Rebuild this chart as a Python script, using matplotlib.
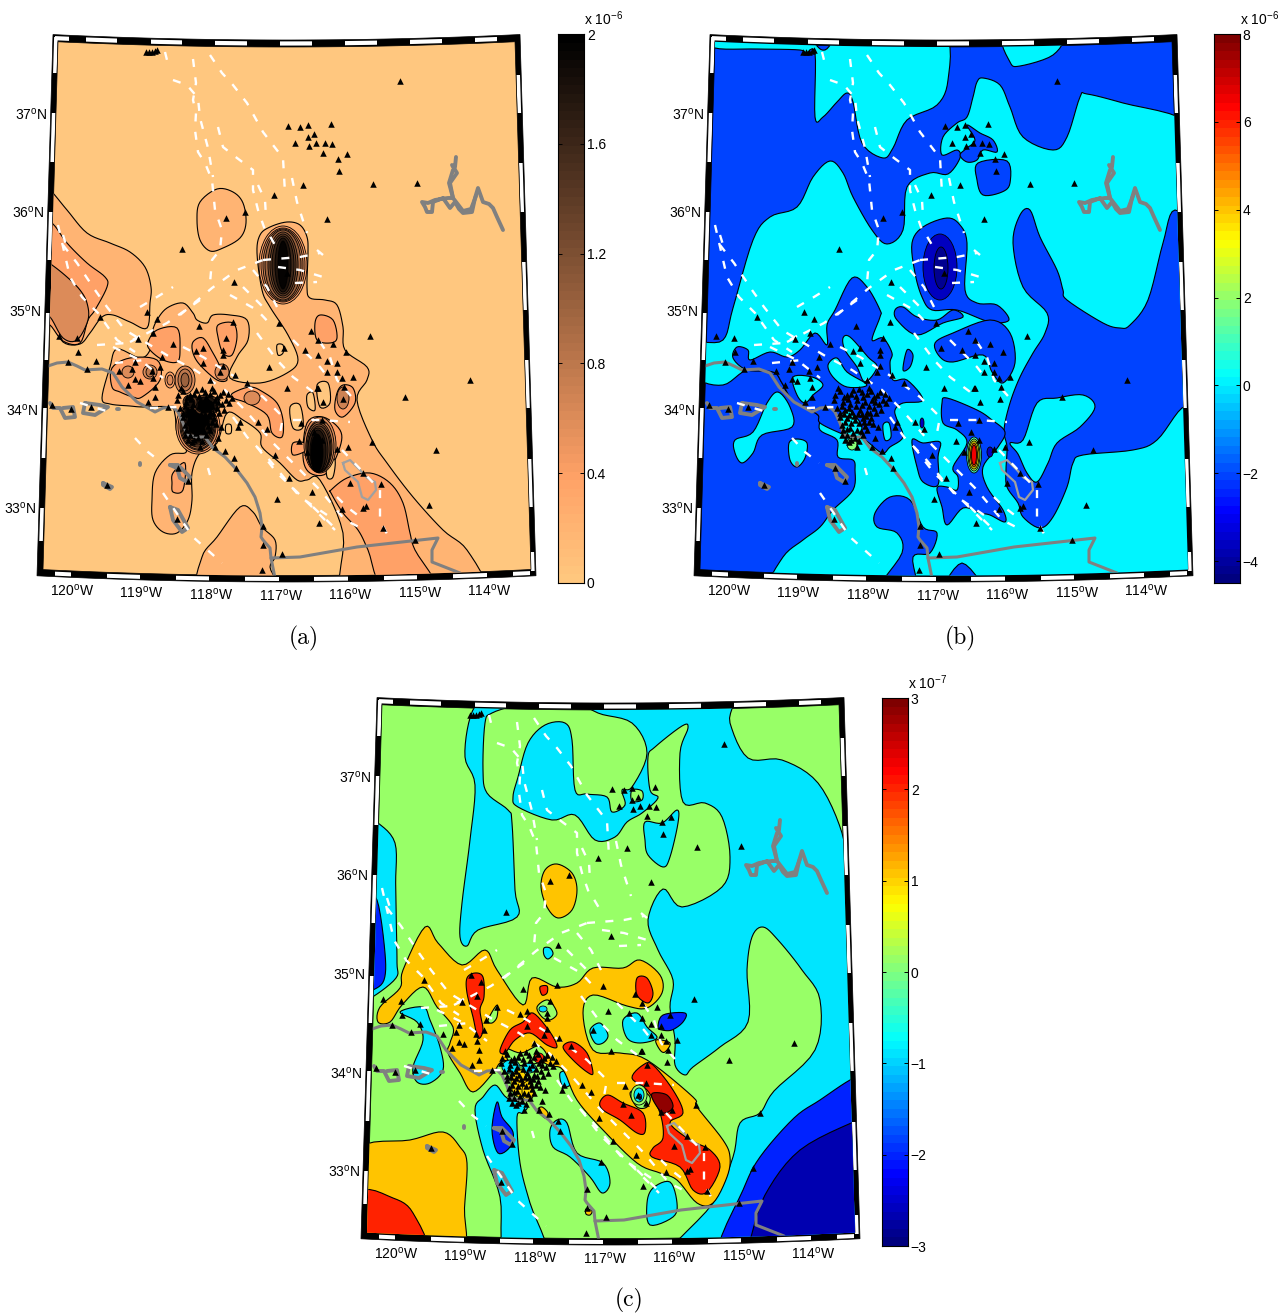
"""Three strain-rate style maps of southern California, rebuilt with matplotlib.

All map shapes are kept in one projected map plane (x east, y down), shared by the panels.
"""

import numpy as np
import matplotlib
matplotlib.use("Agg")
import matplotlib.pyplot as plt
from matplotlib.colors import LinearSegmentedColormap
from matplotlib.patches import Polygon, Ellipse

plt.rcParams["font.family"] = ["Liberation Sans", "DejaVu Sans"]
plt.rcParams["mathtext.default"] = "regular"

W, H = 1278, 1315
MAP_X = (10, 545)
MAP_Y = (20, 610)

# ---- shared map data ----
STATIONS = [
    (146, 52), (149, 52), (152, 52), (155, 51), (157, 50), (288, 126), (300, 127), (308, 125), (314, 134),
    (308, 137), (295, 143), (309, 146), (316, 143), (325, 143), (323, 153), (331, 124), (332, 144), (338, 159),
    (347, 154), (339, 171), (303, 185), (373, 184), (417, 183), (400, 81), (327, 219), (274, 195), (245, 212),
    (226, 218), (182, 249), (234, 282), (287, 273), (147, 312), (157, 319), (100, 317), (59, 336), (77, 338),
    (78, 352), (68, 362), (96, 361), (87, 369), (138, 339), (153, 333), (173, 344), (199, 326), (233, 322),
    (226, 338), (203, 348), (196, 351), (223, 350), (223, 355), (162, 357), (135, 362), (132, 369), (119, 371),
    (152, 371), (160, 367), (203, 363), (223, 366), (220, 372), (235, 375), (269, 367), (247, 383), (210, 380),
    (128, 385), (135, 379), (140, 381), (153, 378), (155, 387), (148, 402), (155, 397), (168, 407), (177, 400),
    (183, 417), (52, 405), (71, 409), (91, 407), (107, 485), (178, 468), (188, 481), (177, 519), (215, 447),
    (225, 451), (218, 438), (234, 458), (236, 468), (221, 427), (240, 422), (238, 427), (258, 422), (267, 429),
    (275, 455), (289, 478), (312, 492), (277, 499), (319, 523), (263, 526), (263, 545), (282, 554), (262, 570),
    (287, 388), (284, 348), (305, 350), (279, 323), (311, 331), (318, 340), (327, 361), (318, 388), (323, 402),
    (301, 423), (299, 441), (322, 420), (192, 442), (185, 435), (200, 447), (370, 336), (333, 344), (346, 352),
    (318, 355), (337, 363), (327, 372), (337, 372), (342, 378), (353, 377), (317, 388), (344, 387), (343, 399),
    (405, 397), (470, 380), (372, 442), (436, 450), (348, 447), (337, 449), (314, 432), (322, 440), (363, 473),
    (350, 483), (381, 484), (366, 506), (342, 509), (363, 508), (429, 505), (383, 528), (415, 540), (307, 452),
    (190, 395), (196, 390), (205, 392), (212, 388), (181, 388), (178, 395), (186, 402), (193, 404), (200, 400),
    (208, 402), (215, 400), (220, 395), (226, 400), (232, 398), (180, 408), (188, 410), (195, 412), (203, 410),
    (210, 412), (217, 408), (190, 418), (198, 420), (206, 418), (214, 418), (185, 425), (193, 428), (200, 430),
    (208, 426), (216, 424), (190, 435), (198, 438), (206, 435),
    (183, 391), (187, 397), (191, 399), (194, 394), (199, 396), (202, 389), (206, 397), (210, 394), (214, 391),
    (217, 397), (223, 392), (228, 394), (229, 403), (222, 404), (218, 402), (212, 406), (205, 405), (199, 406),
    (192, 408), (185, 406), (183, 413), (187, 414), (192, 415), (197, 416), (201, 414), (205, 414), (209, 416),
    (213, 413), (219, 413), (224, 410), (188, 422), (194, 423), (202, 423), (207, 422), (212, 422), (186, 430),
    (190, 429), (196, 433), (204, 431), (210, 430), (194, 440), (202, 441), (188, 440),
]

FAULTS = [
    [(165, 52), (167, 60), (172, 65)],
    [(193, 59), (196, 83), (193, 100), (196, 113), (195, 130), (198, 152), (205, 163), (212, 180), (215, 210),
     (222, 230), (220, 250), (212, 260), (210, 283)],
    [(210, 55), (222, 73), (233, 85), (247, 103), (263, 132), (283, 158), (285, 193)],
    [(173, 80), (187, 85), (198, 98), (200, 118), (208, 148), (213, 177)],
    [(218, 127), (223, 147), (237, 158), (253, 170), (253, 190), (258, 210), (265, 230), (268, 233), (278, 250)],
    [(292, 178), (297, 202), (307, 233)],
    [(258, 185), (265, 200), (266, 217)],
    [(263, 260), (300, 257), (320, 253)],
    [(278, 267), (300, 270), (323, 277)],
    [(295, 283), (317, 282)],
    [(317, 250), (323, 255)],
    [(140, 307), (157, 297), (173, 287)],
    [(180, 315), (212, 288), (237, 270), (263, 260)],
    [(230, 295), (257, 310), (273, 327)],
    [(243, 287), (263, 307)],
    [(253, 270), (267, 287), (277, 307)],
    [(58, 225), (70, 277), (82, 297), (98, 313), (117, 340), (135, 352)],
    [(63, 245), (77, 263), (95, 290), (107, 307), (125, 330), (150, 345), (170, 357), (195, 370), (225, 390),
     (245, 410), (258, 425), (275, 445), (300, 470), (320, 490), (345, 520), (365, 530)],
    [(63, 235), (67, 248)],
    [(135, 438), (148, 452), (162, 463)],
    [(163, 493), (193, 537), (222, 563)],
    [(208, 468), (210, 475)],
    [(80, 403), (113, 413)],
    [(97, 345), (127, 343), (147, 332)],
    [(113, 347), (140, 360), (163, 378)],
    [(115, 363), (145, 360)],
    [(150, 408), (177, 407)],
    [(130, 342), (167, 323), (200, 300)],
    [(183, 347), (203, 357), (237, 378), (263, 397), (283, 417), (280, 433)],
    [(257, 333), (277, 360), (293, 377), (320, 397)],
    [(293, 340), (320, 367), (330, 380)],
    [(320, 342), (330, 357), (337, 380), (357, 403)],
    [(233, 417), (247, 437), (267, 457), (300, 497), (330, 517)],
    [(257, 447), (277, 473), (297, 492), (335, 530)],
    [(342, 450), (363, 472), (380, 490), (380, 520), (390, 540)],
    [(337, 497), (347, 507), (360, 517)],
    [(313, 507), (337, 530)],
    [(293, 420), (320, 420), (350, 422)],
]

COAST = [
    (48, 366), (57, 363), (68, 362), (77, 366), (85, 370), (102, 369), (113, 373), (122, 387), (130, 395),
    (137, 402), (148, 408), (155, 412), (163, 408), (173, 407), (178, 412), (183, 423), (187, 435), (197, 437),
    (205, 437), (213, 448), (225, 457), (237, 470), (247, 483), (255, 497), (260, 513), (262, 527), (261, 537),
    (263, 540), (270, 548), (271, 558), (275, 578),
]
BORDER = [(271, 558), (300, 557), (357, 547), (438, 538), (432, 550), (432, 562), (460, 573)]
ISLANDS = [
    [(50, 403), (53, 408), (60, 408), (65, 418), (75, 417), (73, 407), (63, 408)],
    [(85, 403), (83, 413), (95, 415), (108, 407), (100, 405), (85, 403)],
    [(117, 409), (119, 409)],
    [(103, 483), (112, 487), (110, 489), (103, 485), (103, 483)],
    [(140, 463), (140, 465)],
    [(170, 465), (178, 465), (190, 477), (187, 482), (180, 478), (177, 468), (170, 465)],
    [(170, 507), (178, 510), (188, 528), (182, 532), (173, 520), (170, 507)],
]
SALTON = [(343, 463), (350, 460), (360, 470), (367, 478), (375, 482), (376, 490), (368, 500), (362, 497),
          (358, 482), (345, 470), (343, 463)]
LAKE = [
    (456, 157), (455, 167), (452, 165), (457, 173), (450, 183), (453, 198), (448, 198), (441, 199), (435, 200),
    (428, 203), (422, 202), (425, 207), (427, 212), (432, 212), (433, 202), (443, 198), (450, 208), (455, 202),
    (459, 209), (463, 213), (472, 212), (475, 198), (478, 188), (483, 202), (489, 204), (493, 208), (497, 217),
    (503, 230),
]
LAKE_2 = [(453, 170), (449, 183), (453, 198), (463, 211), (471, 209), (476, 196)]

# ---- panel (a) regions: value, outline ----
A_LEFT_1 = [(40, 186), (50, 190), (67, 210), (87, 233), (110, 243), (130, 252), (145, 267), (151, 287), (150, 303),
            (147, 328), (130, 322), (113, 315), (102, 317), (90, 333), (80, 344), (63, 342), (50, 320), (40, 318)]
A_LEFT_2 = [(40, 218), (53, 224), (67, 243), (87, 263), (105, 277), (107, 287), (95, 310), (88, 320), (80, 343),
            (63, 341), (50, 325), (40, 322)]
A_LEFT_3 = [(40, 258), (52, 265), (67, 277), (80, 290), (87, 303), (88, 320), (77, 340), (63, 338), (50, 317), (40, 315)]
A_BLOB = [(217, 189), (233, 192), (243, 203), (246, 223), (240, 238), (223, 248), (210, 251), (200, 240), (197, 220), (200, 202)]
A_SOUTH = [(202, 590), (202, 557), (217, 537), (240, 507), (253, 512), (262, 527), (275, 540), (275, 557), (270, 567), (273, 590)]
A_CENTER = [
    (117, 349), (140, 358), (150, 350), (152, 333), (157, 320), (167, 308), (183, 303), (193, 313), (197, 320),
    (207, 323), (213, 315), (230, 315), (247, 320), (248, 340), (237, 357), (230, 378), (260, 383), (287, 373),
    (298, 360), (288, 335), (270, 307), (262, 290), (257, 253), (260, 235), (270, 227), (287, 222), (300, 225),
    (307, 237), (308, 253), (307, 287), (310, 298), (325, 300), (337, 305), (343, 327), (345, 350), (367, 367),
    (367, 380), (357, 400), (372, 440), (387, 463), (413, 497), (443, 530), (467, 550), (485, 590), (342, 590),
    (343, 533), (320, 480), (307, 480), (297, 480), (280, 463), (262, 447), (260, 433), (243, 420), (227, 413),
    (217, 443), (200, 453), (192, 473), (192, 500), (188, 520), (177, 533), (163, 532), (153, 520), (152, 500),
    (155, 473), (170, 455), (185, 453), (185, 447), (177, 433), (175, 415), (170, 407), (143, 407), (130, 406),
    (110, 404), (102, 398), (110, 367),
]
A_L2 = [
    [(157, 330), (177, 328), (180, 350), (177, 362), (163, 360), (150, 350), (148, 342)],
    [(218, 325), (233, 323), (237, 337), (232, 355), (223, 353), (218, 337)],
    [(193, 342), (203, 338), (213, 353), (222, 370), (227, 380), (217, 380), (200, 365), (193, 353)],
    [(112, 368), (130, 358), (157, 360), (160, 380), (142, 397), (133, 397), (120, 392), (112, 387)],
    [(233, 393), (250, 387), (263, 392), (277, 403), (283, 420), (282, 437), (272, 433), (267, 415), (247, 403), (233, 398)],
    [(315, 323), (320, 315), (333, 320), (337, 338), (330, 343), (317, 340)],
    [(337, 393), (343, 385), (353, 388), (355, 403), (343, 417), (335, 410)],
    [(307, 423), (323, 417), (340, 430), (340, 447), (327, 473), (310, 473), (303, 457)],
    [(331, 490), (347, 478), (370, 473), (390, 483), (403, 503), (410, 533), (415, 550), (436, 590), (385, 590),
     (368, 550), (358, 530), (343, 513), (331, 493)],
    [(173, 473), (185, 463), (183, 490), (173, 492), (172, 483)],
    [(293, 443), (305, 443), (307, 450), (293, 455)],
]
A_L0 = [
    [(277, 345), (283, 345), (283, 353), (278, 355)],
    [(290, 407), (300, 405), (303, 427), (293, 428)],
    [(317, 385), (328, 383), (330, 403), (320, 407)],
    [(327, 460), (335, 460), (333, 477), (327, 477)],
    [(307, 395), (313, 393), (315, 410), (308, 407)],
    [(226, 425), (231, 425), (231, 433), (226, 433)],
]
# ring value, centre x, centre y, half width, half height
A_RINGS = [
    (0.4, 283, 265, 24, 39), (0.6, 283, 265, 22, 37), (0.8, 283, 265, 20, 36), (1.0, 283, 265, 18, 35),
    (1.2, 283, 265, 15, 33), (1.4, 283, 265, 13, 31), (1.6, 283, 265, 11, 29), (1.8, 283, 265, 8, 27),
    (1.95, 283, 265, 5, 24),
    (0.4, 198, 427, 22, 27), (0.6, 198, 427, 20, 25), (0.8, 198, 426, 18, 24), (1.0, 198, 426, 17, 23),
    (1.2, 198, 425, 16, 22), (1.4, 198, 424, 15, 21), (1.6, 198, 423, 14, 20), (1.8, 198, 422, 12, 18),
    (2.0, 197, 420, 9, 15),
    (1.4, 206, 405, 14, 10), (1.8, 206, 405, 11, 8), (2.0, 206, 406, 8, 6), (1.4, 190, 402, 7, 7), (1.8, 190, 403, 5, 5),
    (0.6, 320, 445, 16, 28), (0.8, 320, 446, 14, 26), (1.0, 319, 447, 13, 25), (1.2, 319, 448, 12, 24),
    (1.4, 319, 449, 11, 23), (1.6, 318, 450, 10, 22), (1.8, 318, 451, 8, 21), (2.0, 317, 453, 6, 19),
    (0.6, 128, 372, 6, 6), (0.6, 150, 372, 7, 7), (0.8, 150, 372, 4, 5), (0.6, 185, 380, 10, 14),
    (0.8, 185, 380, 7, 11), (1.0, 185, 380, 4, 7), (0.6, 222, 372, 7, 8), (0.6, 252, 398, 8, 7),
    (0.7, 343, 398, 6, 11), (0.4, 170, 380, 5, 8), (0.6, 170, 380, 3, 5),
]

# ---- panel (b) regions ----
B_NORTH = [(58, 36), (150, 36), (158, 44), (168, 50), (186, 36), (288, 36), (291, 80), (280, 105), (250, 120), (236, 148),
           (226, 158), (205, 143), (196, 102), (190, 93), (180, 102), (166, 117), (158, 117), (158, 53), (148, 54),
           (143, 50), (58, 48)]
B_NE = [(348, 36), (403, 36), (396, 55), (363, 66), (353, 62)]
B_MAIN = [
    (76, 308), (96, 240), (113, 217), (140, 207), (156, 177), (173, 161), (186, 173), (196, 197), (215, 230),
    (230, 244), (246, 230), (250, 187), (273, 173), (291, 174), (303, 158), (300, 150), (285, 155), (286, 137),
    (300, 123), (310, 117), (316, 97), (320, 82), (326, 78), (343, 85), (353, 107), (366, 137), (396, 150),
    (410, 137), (423, 97), (430, 94), (466, 103), (530, 122), (545, 590), (112, 590), (126, 557), (146, 540),
    (163, 527), (176, 510), (196, 490), (198, 470), (196, 460), (181, 457), (180, 440), (163, 430), (161, 415),
    (135, 400), (125, 383), (116, 372), (90, 370), (66, 385), (40, 377), (40, 345), (66, 340),
]
B_BLUE = [
    [(373, 210), (383, 237), (400, 270), (406, 290), (410, 300), (446, 323), (463, 328), (473, 325), (491, 300),
     (506, 243), (518, 210), (545, 240), (545, 405), (525, 408), (500, 440), (476, 450), (426, 455), (416, 463),
     (410, 487), (396, 517), (383, 528), (366, 517), (361, 503), (350, 487), (349, 470), (350, 447), (347, 430),
     (353, 403), (363, 377), (376, 353), (388, 333), (390, 313), (366, 287), (356, 243), (363, 215)],
    [(310, 125), (323, 133), (336, 140), (340, 152), (326, 150), (320, 160), (310, 162), (303, 155), (310, 148), (318, 140)],
    [(321, 163), (350, 161), (353, 183), (345, 192), (326, 195), (320, 180)],
    [(255, 243), (266, 227), (290, 218), (303, 225), (310, 243), (308, 290), (320, 303), (340, 305), (352, 320),
     (333, 322), (300, 310), (275, 310), (265, 297), (258, 273)],
    [(178, 310), (195, 278), (210, 287), (223, 310), (223, 317), (215, 340), (226, 338), (235, 353), (233, 363),
     (236, 380), (250, 380), (266, 400), (246, 403), (238, 410), (240, 420), (246, 437), (233, 447), (225, 453),
     (208, 440), (196, 437), (183, 433), (163, 423), (161, 415), (148, 408), (135, 400), (125, 383), (116, 372),
     (90, 370), (76, 358), (80, 347), (91, 350), (93, 360), (113, 352), (130, 357), (143, 350), (158, 333),
     (170, 345), (170, 325)],
    [(278, 343), (296, 333), (333, 320), (353, 333), (358, 363), (346, 383), (335, 372), (326, 355), (296, 362), (283, 357)],
    [(238, 310), (246, 307), (260, 317), (280, 320), (296, 310), (306, 317), (286, 323), (260, 335), (240, 320)],
    [(246, 370), (250, 350), (256, 355), (253, 367)],
    [(255, 440), (266, 443), (283, 442), (281, 457), (281, 485), (266, 482), (260, 467)],
    [(218, 513), (233, 497), (253, 500), (266, 527), (280, 533), (273, 553), (256, 557), (258, 590), (222, 590),
     (245, 553), (240, 533), (220, 527)],
    [(288, 590), (305, 563), (325, 590)],
    [(285, 403), (290, 398), (320, 410), (335, 420), (348, 432), (341, 447), (326, 467), (330, 487), (346, 510),
     (348, 522), (333, 515), (323, 513), (306, 508), (290, 525), (285, 507), (280, 488), (290, 487), (300, 490),
     (301, 477), (296, 467), (310, 443), (300, 430), (286, 423)],
]
B_CYAN_TOP = [
    [(380, 403), (400, 398), (426, 395), (438, 407), (423, 427), (400, 443), (391, 463), (380, 482), (370, 473),
     (361, 454), (353, 443), (366, 440)],
    [(186, 338), (193, 337), (211, 357), (220, 367), (208, 382), (200, 367), (188, 350)],
    [(171, 365), (180, 358), (190, 372), (210, 385), (190, 387), (176, 377)],
    [(136, 377), (155, 377), (166, 385), (156, 395), (148, 403), (140, 395)],
    [(78, 440), (96, 432), (110, 403), (121, 392), (133, 407), (135, 427), (105, 435), (96, 453), (85, 463), (78, 453)],
    [(132, 443), (140, 439), (150, 443), (148, 458), (140, 467), (133, 460)],
    [(226, 425), (232, 423), (234, 437), (228, 440)],
    [(183, 420), (190, 410), (200, 418), (205, 430), (198, 445), (190, 440)],
]
B_RINGS = [
    (-3.6, 283, 267, 17, 33), (-4.3, 284, 268, 7, 21),
    (1.0, 317, 455, 7.5, 18), (2.5, 317, 455, 6, 16), (3.5, 317, 455, 5, 14), (5.0, 317, 455, 3.5, 12), (6.5, 317, 455, 2.5, 10),
    (-3.6, 333, 452, 3, 5), (1.8, 195, 444, 5, 6), (-3.6, 265, 423, 2, 5),
]

# ---- panel (c) regions ----
C_BAND = [(146, 55), (158, 40), (194, 40), (168, 50), (161, 60), (159, 107), (163, 130), (184, 147), (188, 160), (191, 227),
          (193, 254), (154, 267), (143, 283), (136, 274), (138, 240), (146, 177), (151, 122), (141, 94)]
C_EAST = [
    (256, 36), (406, 36), (406, 60), (424, 95), (458, 97), (494, 120), (518, 170), (525, 250), (545, 457), (545, 590),
    (345, 590), (389, 540), (409, 494), (416, 460), (436, 450), (450, 428), (491, 387), (496, 337), (478, 307),
    (454, 277), (439, 264), (428, 274), (423, 307), (424, 359), (396, 384), (369, 404), (361, 412), (351, 402),
    (351, 377), (346, 344), (349, 317), (334, 287), (324, 257), (339, 226), (358, 244), (398, 224), (406, 194),
    (398, 154), (381, 140), (359, 139), (356, 90), (364, 65), (358, 63), (331, 84), (324, 94), (326, 127), (334, 135),
    (318, 150), (303, 159), (291, 174), (271, 177), (251, 152), (228, 157), (194, 144), (189, 134), (194, 114),
    (204, 80), (221, 62), (241, 60), (248, 77), (251, 127), (263, 131), (283, 134), (288, 149), (301, 142), (298, 127),
    (308, 124), (323, 90), (308, 60), (274, 50),
]
C_CYAN = [
    [(321, 159), (338, 160), (353, 147), (354, 160), (346, 194), (339, 204), (324, 192), (321, 177)],
    [(54, 160), (71, 180), (73, 300), (72, 315), (50, 333), (40, 335), (40, 155)],
    [(266, 367), (276, 360), (284, 372), (279, 380), (271, 380)],
    [(299, 357), (313, 350), (323, 364), (333, 375), (316, 380), (303, 375)],
    [(76, 349), (99, 344), (106, 357), (116, 384), (119, 407), (106, 420), (93, 419), (89, 404), (99, 377), (93, 359)],
    [(236, 410), (246, 409), (248, 420), (239, 424)],
    [(171, 422), (183, 435), (203, 442), (199, 450), (193, 454), (196, 500), (206, 540), (222, 590), (181, 590),
     (176, 534), (159, 487), (151, 447), (159, 434)],
    [(226, 467), (233, 457), (243, 460), (253, 490), (279, 500), (286, 520), (278, 530), (266, 514), (246, 494), (229, 484)],
    [(323, 540), (329, 525), (346, 519), (353, 540), (349, 554), (326, 562)],
    [(220, 285), (226, 285), (229, 291), (224, 296), (220, 292)],
]
C_GREEN_TOP = [
    [(308, 127), (318, 128), (318, 137), (308, 138)],
    [(213, 344), (224, 337), (233, 350), (226, 357), (218, 354)],
    [(164, 357), (173, 342), (173, 354), (168, 360)],
    [(306, 430), (316, 427), (326, 434), (323, 444), (313, 444)],
    [(180, 385), (197, 390), (215, 383), (222, 397), (190, 402)],
]
C_ORANGE = [
    [(54, 359), (56, 344), (76, 325), (79, 307), (101, 264), (114, 280), (138, 302), (161, 287), (173, 307), (199, 342),
     (208, 315), (233, 324), (253, 320), (269, 305), (299, 305), (316, 297), (336, 312), (338, 330), (323, 345),
     (303, 343), (269, 332), (259, 350), (269, 387), (296, 390), (323, 397), (369, 434), (373, 444), (399, 477),
     (406, 494), (403, 514), (389, 540), (373, 540), (353, 517), (336, 510), (313, 500), (279, 467), (253, 437),
     (239, 407), (226, 403), (213, 397), (186, 397), (176, 400), (169, 410), (149, 429), (136, 410), (124, 390),
     (126, 380), (129, 364), (113, 344), (99, 324), (78, 342), (66, 359)],
    [(36, 485), (86, 477), (119, 469), (136, 484), (143, 500), (138, 590), (30, 590)],
    [(233, 201), (248, 210), (253, 227), (248, 247), (234, 255), (223, 244), (217, 224), (221, 207)],
    [(332, 377), (346, 380), (341, 389), (336, 387)],
    [(218, 444), (224, 450), (221, 455), (214, 447)],
    [(262, 546), (268, 548), (266, 552), (262, 551)],
]
C_RED = [
    [(36, 530), (69, 535), (89, 550), (100, 590), (30, 590)],
    [(143, 315), (151, 310), (159, 314), (160, 334), (156, 347), (159, 367), (154, 375), (149, 354), (143, 330)],
    [(176, 387), (186, 367), (199, 359), (209, 350), (226, 369), (233, 384), (223, 382), (206, 370), (191, 377), (181, 390)],
    [(239, 384), (249, 379), (263, 390), (269, 410), (263, 409), (249, 397)],
    [(313, 315), (323, 315), (329, 330), (324, 340), (313, 332)],
    [(216, 324), (223, 323), (223, 330), (218, 332)],
    [(276, 439), (284, 432), (299, 440), (319, 450), (321, 469), (313, 470), (296, 457), (279, 447)],
    [(308, 415), (319, 402), (329, 402), (349, 427), (359, 450), (346, 460), (366, 477), (386, 487), (396, 504),
     (383, 529), (369, 527), (356, 504), (328, 494), (329, 485), (339, 475), (336, 450), (323, 427)],
]
C_BLUE = [
    [(173, 439), (178, 454), (189, 469), (186, 484), (174, 490), (168, 467)],
    [(334, 364), (339, 352), (361, 350), (359, 359), (348, 367), (338, 367)],
    [(53, 237), (61, 290), (60, 317), (49, 327), (40, 328), (40, 235)],
    [(395, 590), (419, 527), (436, 494), (470, 455), (496, 437), (526, 417), (545, 410), (545, 590)],
]
C_NAVY = [(420, 590), (426, 577), (441, 532), (476, 487), (534, 457), (545, 455), (545, 590)]
C_MAROON = [(329, 430), (343, 432), (349, 444), (339, 450), (329, 437)]
C_RINGS = [
    (0.1, 315, 432, 8, 10), (-0.9, 315, 432, 5, 7), (-2.0, 316, 434, 1.5, 3), (-1.0, 219, 346, 4, 3),
    (-2.0, 187, 404, 5, 5), (-0.9, 187, 404, 9, 7), (1.0, 195, 420, 8, 14), (-0.9, 205, 405, 7, 5),
    (1.0, 204, 428, 6, 10), (2.0, 215, 395, 5, 5),
]

# value bands for each panel
A_VALUES = [0.2, 0.4, 0.6]
B_VALUES = {"base": -2.1, "cyan": 0.0}
C_VALUES = {"green": 0.1, "cyan": -0.93, "orange": 1.05, "red": 2.03, "blue": -2.0, "navy": -2.7, "maroon": 2.9}

# ---- labels ----
LAT_LABELS = ["37", "36", "35", "34", "33"]
LAT_POS = [(47, 115), (44, 213), (41, 312), (38, 411), (36, 509)]
LON_LABELS = ["120", "119", "118", "117", "116", "115", "114"]
LON_POS = [(72, 591), (141, 593), (211, 595), (281, 596), (350, 595), (420, 593), (489, 591)]

A_TICKS = [0, 0.4, 0.8, 1.2, 1.6, 2]
A_TICK_TEXT = ["0", "0.4", "0.8", "1.2", "1.6", "2"]
B_TICKS = [-4, -2, 0, 2, 4, 6, 8]
C_TICKS = [-3, -2, -1, 0, 1, 2, 3]

# ---- frame pieces along the map edges ----
TOP_WHITE = [(55, 69), (86, 117), (151, 182), (215, 247), (280, 312), (345, 377), (410, 442), (475, 497)]
BOTTOM_WHITE = [(55, 71), (107, 140), (176, 209), (245, 279), (314, 348), (384, 417), (453, 487), (513, 530)]
LEFT_WHITE = [(37, 73), (113, 162), (212, 260), (313, 360), (408, 458), (508, 541)]
RIGHT_WHITE = [(75, 113), (163, 212), (262, 310), (360, 408), (459, 507), (552, 571)]


def arc(x, y_end, sag):
    # shallow bow of the top and bottom map edges
    return y_end + sag * (1 - ((x - 286.0) / 245.0) ** 2)


def frame_polygons():
    xo = np.linspace(53, 520, 40)
    xob = np.linspace(37, 536, 40)
    outer = list(zip(xo, arc(xo, 34, 6))) + list(zip(xob[::-1], arc(xob[::-1], 576, 6)))
    xi = np.linspace(58, 515, 40)
    xib = np.linspace(43, 531, 40)
    inner = list(zip(xi, arc(xi, 41, 6))) + list(zip(xib[::-1], arc(xib[::-1], 569.5, 6)))
    return outer, inner


def smooth(points, max_step=40, samples=6):
    # closed Catmull-Rom through the outline, so it reads like a contour line
    pts = np.array(points, dtype=float)
    dense = []
    for a, b in zip(pts, np.roll(pts, -1, axis=0)):
        n = max(1, int(np.hypot(*(b - a)) // max_step))
        for k in range(n):
            dense.append(a + (b - a) * k / n)
    pts = np.array(dense)
    p0 = np.roll(pts, 1, axis=0)
    p2 = np.roll(pts, -1, axis=0)
    p3 = np.roll(pts, -2, axis=0)
    out = []
    for t in np.linspace(0, 1, samples, endpoint=False):
        out.append(0.5 * (2 * pts + (p2 - p0) * t + (2 * p0 - 5 * pts + 4 * p2 - p3) * t ** 2
                          + (3 * pts - p0 - 3 * p2 + p3) * t ** 3))
    return np.stack(out, axis=1).reshape(-1, 2)


def draw_frame(ax):
    outer, inner = frame_polygons()
    ax.add_patch(Polygon(outer, closed=True, fc="black", ec="black", lw=0.5, zorder=1))

    def white(pts):
        ax.add_patch(Polygon(pts, closed=True, fc="white", ec="none", zorder=1.5))

    for a, b in TOP_WHITE:
        white([(a, arc(a, 35.4, 6)), (b, arc(b, 35.4, 6)), (b, arc(b, 39.6, 6)), (a, arc(a, 39.6, 6))])
    for a, b in BOTTOM_WHITE:
        white([(a, arc(a, 571, 6)), (b, arc(b, 571, 6)), (b, arc(b, 575, 6)), (a, arc(a, 575, 6))])

    def left_x(y):
        return 53 + (y - 34) * (37 - 53) / 542.0

    def right_x(y):
        return 520 + (y - 34) * 16 / 542.0

    for a, b in LEFT_WHITE:
        white([(left_x(a) + 1.2, a), (left_x(a) + 4.8, a), (left_x(b) + 4.8, b), (left_x(b) + 1.2, b)])
    for a, b in RIGHT_WHITE:
        white([(right_x(a) - 1.2, a), (right_x(a) - 4.8, a), (right_x(b) - 4.8, b), (right_x(b) - 1.2, b)])
    return inner


def new_map(dx, dy):
    left = (MAP_X[0] + dx) / W
    bottom = 1 - (MAP_Y[1] + dy) / H
    ax = fig.add_axes([left, bottom, (MAP_X[1] - MAP_X[0]) / W, (MAP_Y[1] - MAP_Y[0]) / H])
    ax.set_xlim(*MAP_X)
    ax.set_ylim(MAP_Y[1], MAP_Y[0])
    ax.axis("off")
    ax.patch.set_alpha(0)
    return ax


def draw_map(ax, layers, rings, cmap, norm, base):
    inner = draw_frame(ax)
    clip = Polygon(inner, closed=True, fc=cmap(norm(base)), ec="black", lw=0.5, zorder=2)
    ax.add_patch(clip)

    z = 3
    for value, outlines in layers:
        for outline in outlines:
            patch = Polygon(smooth(outline), closed=True, fc=cmap(norm(value)), ec="black", lw=0.8, zorder=z)
            ax.add_patch(patch)
            patch.set_clip_path(clip)
        z += 0.1

    for value, cx, cy, rx, ry in rings:
        patch = Ellipse((cx, cy), 2 * rx, 2 * ry, fc=cmap(norm(value)), ec="black", lw=0.6, zorder=5)
        ax.add_patch(patch)
        patch.set_clip_path(clip)

    for line in [COAST, BORDER, LAKE, LAKE_2]:
        xs, ys = zip(*line)
        width = 2.8 if line in (LAKE, LAKE_2) else 2.2
        art, = ax.plot(xs, ys, color="#808080", lw=width, zorder=6, solid_capstyle="round", solid_joinstyle="round")
        art.set_clip_path(clip)
    for line in ISLANDS:
        xs, ys = zip(*line)
        art, = ax.plot(xs, ys, color="#808080", lw=2.8, zorder=6, solid_capstyle="round")
        art.set_clip_path(clip)
    xs, ys = zip(*SALTON)
    art, = ax.plot(xs, ys, color="#a0a0a0", lw=1.6, zorder=6)
    art.set_clip_path(clip)

    for line in FAULTS:
        xs, ys = zip(*line)
        art, = ax.plot(xs, ys, color="white", lw=1.7, ls=(0, (3.4, 4.4)), zorder=7)
        art.set_clip_path(clip)

    xs, ys = zip(*STATIONS)
    ax.scatter(xs, ys, marker="^", s=22, c="black", linewidths=0, zorder=8, clip_on=False)

    for name, (x, y) in zip(LAT_LABELS, LAT_POS):
        ax.text(x, y, name + "$^{o}$N", ha="right", va="center", fontsize=10, clip_on=False)
    for name, (x, y) in zip(LON_LABELS, LON_POS):
        ax.text(x, y, name + "$^{o}$W", ha="center", va="center", fontsize=10, clip_on=False)


def draw_colorbar(x0, x1, y0, y1, cmap, vmin, vmax, ticks, labels, exponent):
    cax = fig.add_axes([x0 / W, 1 - y1 / H, (x1 - x0) / W, (y1 - y0) / H])
    steps = np.linspace(vmin, vmax, 64).reshape(-1, 1)
    cax.imshow(steps, cmap=cmap, vmin=vmin, vmax=vmax, aspect="auto", origin="lower", extent=[0, 1, vmin, vmax])
    cax.set_xticks([])
    cax.set_yticks(ticks)
    cax.set_yticklabels(labels, fontsize=10)
    cax.yaxis.tick_right()
    cax.tick_params(axis="y", direction="in", left=True, right=True, length=3, width=0.7, pad=2)
    for spine in cax.spines.values():
        spine.set_linewidth(0.8)
    fig.text((x0 + 26) / W, 1 - (y0 - 15) / H, "x 10$^{%d}$" % exponent, fontsize=10, ha="left", va="center")


fig = plt.figure(figsize=(W / 100, H / 100), dpi=100)

# panel (a)
copper = matplotlib.colormaps["copper_r"].resampled(64)
norm_a = plt.Normalize(0, 2)
layers_a = [
    (A_VALUES[0], [A_LEFT_1, A_BLOB, A_SOUTH, A_CENTER]),
    (A_VALUES[1], [A_LEFT_2] + A_L2),
    (A_VALUES[2], [A_LEFT_3]),
    (0.0, A_L0),
]
draw_map(new_map(0, 0), layers_a, A_RINGS, copper, norm_a, 0.0)
draw_colorbar(558, 584, 34, 583, copper, 0, 2, A_TICKS, A_TICK_TEXT, -6)
fig.text(304 / W, 1 - 638 / H, "(a)", family="cmr10", fontsize=17, ha="center", va="center")

# panel (b), with the anchors of the classic jet table
jet = LinearSegmentedColormap.from_list(
    "classic_jet",
    [(0, (0, 0, 0.5)), (0.125, (0, 0, 1)), (0.375, (0, 1, 1)), (0.625, (1, 1, 0)), (0.875, (1, 0, 0)), (1, (0.5, 0, 0))],
    N=64,
)
norm_b = plt.Normalize(-4.5, 8)
layers_b = [
    (B_VALUES["cyan"], [B_MAIN, B_NORTH, B_NE]),
    (B_VALUES["base"], B_BLUE),
    (B_VALUES["cyan"], B_CYAN_TOP),
]
draw_map(new_map(657, 0), layers_b, B_RINGS, jet, norm_b, B_VALUES["base"])
draw_colorbar(1214, 1240, 34, 583, jet, -4.5, 8, B_TICKS, [str(t).replace("-", "\u2212") for t in B_TICKS], -6)
fig.text(960 / W, 1 - 638 / H, "(b)", family="cmr10", fontsize=17, ha="center", va="center")

# panel (c)
norm_c = plt.Normalize(-3, 3)
layers_c = [
    (C_VALUES["cyan"], [C_BAND, C_EAST] + C_CYAN),
    (C_VALUES["blue"], C_BLUE[:3]),
    (C_VALUES["green"], C_GREEN_TOP[:1]),
    (C_VALUES["orange"], C_ORANGE),
    (C_VALUES["green"], C_GREEN_TOP[1:]),
    (C_VALUES["red"], C_RED),
    (C_VALUES["blue"], C_BLUE[3:]),
    (C_VALUES["navy"], [C_NAVY]),
    (C_VALUES["maroon"], [C_MAROON]),
]
draw_map(new_map(324, 663), layers_c, C_RINGS, jet, norm_c, C_VALUES["green"])
draw_colorbar(882, 908, 698, 1246, jet, -3, 3, C_TICKS, [str(t).replace("-", "\u2212") for t in C_TICKS], -7)
fig.text(629 / W, 1 - 1300 / H, "(c)", family="cmr10", fontsize=17, ha="center", va="center")

fig.savefig("out.png", dpi=100)
